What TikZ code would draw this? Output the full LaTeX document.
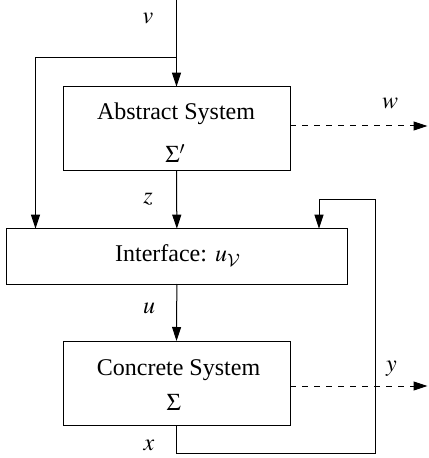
\documentclass[tikz,border=0pt]{standalone}
\usepackage{mathptmx}
\usepackage{fontspec}
\setmainfont{Liberation Serif}
\DeclareSymbolFont{cmsyfont}{OMS}{cmsy}{m}{n}
\DeclareSymbolFontAlphabet{\mathcal}{cmsyfont}
\usetikzlibrary{arrows.meta}
\begin{document}
\begin{tikzpicture}[x=0.5pt,y=-0.5pt,
  box/.style={draw, line width=0.5pt, inner sep=0pt, outer sep=0pt},
  txt/.style={font=\fontsize{12}{14}\selectfont, inner sep=0pt, anchor=base},
  wire/.style={line width=0.5pt},
  arr/.style={wire, -{Triangle[length=7pt,width=4.5pt]}},
  dashline/.style={wire, dash pattern=on 3pt off 3pt, -{Triangle[length=7pt,width=4.5pt]}}
]
\useasboundingbox (0,0) rectangle (428,458);
% boxes
\node[box, minimum width=113.5pt, minimum height=42.15pt] (abs) at (176.5,128.8) {};
\node[box, minimum width=170.15pt, minimum height=27.65pt] (intf) at (176.85,256.35) {};
\node[box, minimum width=113.5pt, minimum height=42.15pt] (conc) at (176.5,383.15) {};
% box texts
\node[txt] (absT) at (176,120) {Abstract System};
\node[txt] (absS) at (175.5,163) {$\Sigma'$};
\node[txt] (intfT) at (178,262) {Interface: $u_{\mathcal{V}}$};
\node[txt] (concT) at (178.5,375) {Concrete System};
\node[txt] (concS) at (173.8,410) {$\Sigma$};
% coordinates
\coordinate (vin) at (176.5,0);
\coordinate (br) at (176.5,57.5);
\coordinate (lft) at (35.5,57.5);
\coordinate (wend) at (427.5,126);
\coordinate (yend) at (427.5,386);
\coordinate (fb1) at (176.5,453.3);
\coordinate (fb2) at (375.7,453.3);
\coordinate (fb3) at (375.7,199.3);
\coordinate (fb4) at (319,199.3);
% connectors
\draw[arr] (vin) -- (abs.north);
\draw[arr] (br) -- (lft) -- (lft |- intf.north);
\draw[arr] (abs.south) -- (intf.north);
\draw[arr] (intf.south) -- (conc.north);
\draw[dashline] (abs.east |- wend) -- (wend);
\draw[dashline] (conc.east |- yend) -- (yend);
\draw[arr] (conc.south) -- (fb1) -- (fb2) -- (fb3) -- (fb4) -- (fb4 |- intf.north);
% labels
\node[txt] (lv) at (148,24) {$v$};
\node[txt] (lw) at (390,109) {$w$};
\node[txt] (lz) at (148,204) {$z$};
\node[txt] (lu) at (149,313) {$u$};
\node[txt] (ly) at (391.5,371) {$y$};
\node[txt] (lx) at (149,450) {$x$};
\end{tikzpicture}
\end{document}
